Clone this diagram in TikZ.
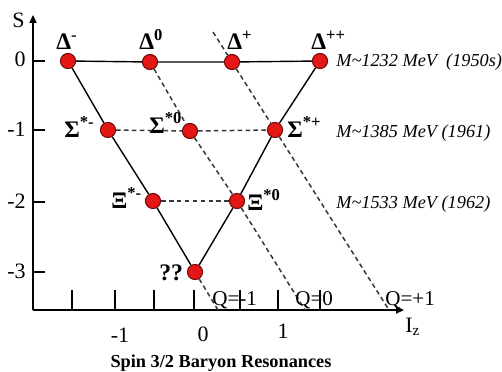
\documentclass[tikz,border=0pt]{standalone}
\usepackage{fontspec}
\setmainfont{Liberation Serif}
\usetikzlibrary{arrows.meta}
\definecolor{ballred}{RGB}{228,22,22}
\definecolor{balledge}{RGB}{110,10,10}
\definecolor{dashgray}{RGB}{55,55,55}
\tikzset{
 ball/.style={circle, fill=ballred, draw=balledge, line width=0.6pt, minimum size=8.6pt, inner sep=0pt},
 solidline/.style={line width=0.8pt, black},
 qline/.style={line width=0.85pt, dashgray, dash pattern=on 2.6pt off 1.9pt},
 axisline/.style={line width=0.8pt, black},
 particle/.style={font=\fontsize{13.5}{15}\selectfont\bfseries, inner sep=0pt, anchor=base west},
 masslabel/.style={font=\fontsize{10.4}{12}\selectfont\itshape, inner sep=0pt, anchor=base west},
 axisnum/.style={font=\fontsize{12.5}{14}\selectfont, inner sep=0pt},
 qlabel/.style={font=\fontsize{12}{14}\selectfont, inner sep=0pt, anchor=base west},
}
\begin{document}
\begin{tikzpicture}[x=0.02cm, y=-0.02cm]
\useasboundingbox (0,0) rectangle (502,371);
% axes
\coordinate (O) at (33,310);
\coordinate (ytop) at (33,15);
\coordinate (xend) at (404,310);
\draw[axisline, -{Triangle[length=4.5pt,width=4pt]}] (O) -- (ytop);
\draw[axisline, -{Triangle[length=4.5pt,width=4pt]}] (O) -- (xend);
\foreach \yy/\lab in {61/0,130/-1,202/-2,272/-3}{
  \draw[axisline] (33,\yy) -- (45,\yy);
  \node[axisnum, anchor=base east] at (26,\yy+6) {\lab};
}
\foreach \xx in {72,115,154,194,240,278,320}{
  \draw[axisline] (\xx,290) -- (\xx,310);
}
\node[axisnum, anchor=base] at (120,342) {-1};
\node[axisnum, anchor=base] at (203,341) {0};
\node[axisnum, anchor=base] at (283,338) {1};
\node[axisnum, anchor=base west] at (12,28) {S};
\node[axisnum, anchor=base west] at (405,332) {I\textsubscript{z}};
% particles
\node[ball] (Dm) at (68,61) {};
\node[ball] (D0) at (150,62) {};
\node[ball] (Dp) at (232,62) {};
\node[ball] (Dpp) at (320,61) {};
\node[ball] (Sm) at (108,130) {};
\node[ball] (S0) at (190,131) {};
\node[ball] (Sp) at (275,130) {};
\node[ball] (Xm) at (153,201) {};
\node[ball] (X0) at (237,201) {};
\node[ball] (Om) at (195,272) {};
\coordinate (qm) at (218,310);
\coordinate (q0) at (305,310);
\coordinate (qp) at (389,310);
\coordinate (qptop) at (213,32);
% solid triangle
\draw[solidline] (Dm) -- (D0) -- (Dp) -- (Dpp);
\draw[solidline] (Dm) -- (Sm) -- (Xm) -- (Om);
\draw[solidline] (Dpp) -- (Sp) -- (X0) -- (Om);
% dashed lines
\draw[qline] (Sm) -- (S0) -- (Sp);
\draw[qline] (Xm) -- (X0);
\draw[qline] (Om) -- (qm);
\draw[qline] (D0) -- (S0) -- (X0) -- (q0);
\draw[qline] (qptop) -- (Dp) -- (Sp) -- (qp);
% labels
\node[particle] (lDm) at (56,50) {Δ\textsuperscript{-}};
\node[particle] (lD0) at (139,50) {Δ\textsuperscript{0}};
\node[particle] (lDp) at (227,50) {Δ\textsuperscript{+}};
\node[particle] (lDpp) at (311,50) {Δ\textsuperscript{++}};
\node[particle] (lSm) at (64,137) {Σ\textsuperscript{*-}};
\node[particle] (lS0) at (149,133) {Σ\textsuperscript{*0}};
\node[particle] (lSp) at (287,137) {Σ\textsuperscript{*+}};
\node[particle] (lXm) at (111,208) {Ξ\textsuperscript{*-}};
\node[particle] (lX0) at (247,210) {Ξ\textsuperscript{*0}};
\node[particle] (lOm) at (159,280) {??};
\node[masslabel] at (336,67) {M\textasciitilde1232 MeV\ \ (1950s)};
\node[masslabel] at (336,137) {M\textasciitilde1385 MeV (1961)};
\node[masslabel] at (336,208) {M\textasciitilde1533 MeV (1962)};
\node[qlabel] at (212,305) {Q=-1};
\node[qlabel] at (295,305) {Q=0};
\node[qlabel] at (385,305) {Q=+1};
\node[font=\fontsize{10.4}{12}\selectfont\bfseries, inner sep=0pt, anchor=base] at (221,367) {Spin 3/2 Baryon Resonances};
\end{tikzpicture}
\end{document}
